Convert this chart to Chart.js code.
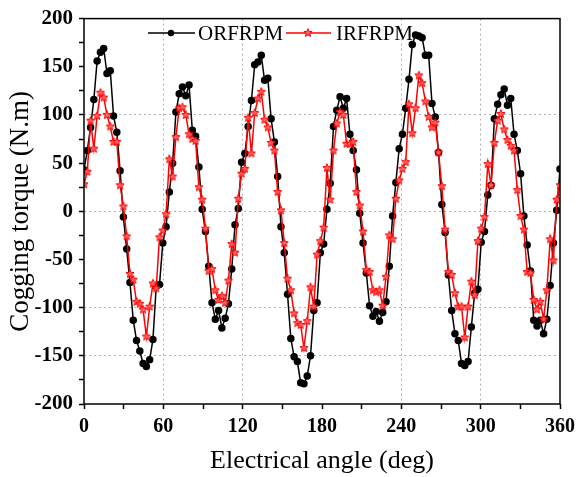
<!DOCTYPE html>
<html>
<head>
<meta charset="utf-8">
<script src="https://cdn.jsdelivr.net/npm/chart.js@4.4.1/dist/chart.umd.min.js"></script>
<style>
    html, body { margin: 0; padding: 0; background: #fff; }
    #wrap { width: 581px; height: 477px; }
</style>
</head>
<body>
<div id="wrap"><canvas id="torqueChart" width="581" height="477"></canvas></div>
<script>
// Cogging torque vs electrical angle
const seriesNames = ['ORFRPM', 'IRFRPM'];

const orfrpm = [
    43, 63, 87, 116, 156, 165, 169, 143, 146, 99,
    82, 42, -6, -39, -74, -113, -134, -145, -158, -161,
    -154, -133, -78, -76, -33, -16, 20, 50, 103, 122,
    129, 120, 131, 84, 78, 46, 2, -21, -57, -95,
    -112, -103, -121, -111, -96, -60, -14, 3, 51,
    60, 88, 115, 152, 155, 162, 136, 138, 96, 72,
    36, -16, -43, -86, -132, -151, -156, -178, -179, -171,
    -150, -103, -95, -43, -34, 2, 29, 88, 105, 119,
    107, 117, 80, 63, 43, -2, -33, -64, -98, -109,
    -104, -114, -105, -94, -57, -5, 30, 65,
    80, 107, 137, 173, 183, 182, 180, 162, 162, 112,
    98, 61, 7, -22, -66, -103, -127, -134, -158, -160,
    -156, -120, -85, -81, -32, -21, 17, 27, 96, 111,
    121, 127, 110, 117, 80, 63, 39, -5, -35, -62,
    -113, -119, -113, -127, -112, -77, -33, 1, 44
];

const irfrpm = [
    28, 41, 94, 65, 99, 123, 118, 100, 88, 72,
    72, 27, 5, -26, -65, -71, -94, -96, -102, -130,
    -99, -75, -80, -27, -20, -3, 54, 36, 77, 107,
    108, 100, 80, 75, 73, 25, 12, -18, -62, -60,
    -82, -92, -88, -95, -72, -34, -43, 13, 39,
    44, 97, 60, 102, 117, 124, 95, 87, 71, 63,
    20, 1, -33, -70, -82, -106, -116, -118, -142, -114,
    -79, -99, -45, -31, -17, 45, 12, 63, 91, 103,
    100, 70, 70, 72, 20, 6, -21, -61, -63, -82,
    -84, -82, -98, -68, -25, -29, 13, 32, 44,
    51, 111, 81, 107, 141, 133, 114, 98, 87, 92,
    61, 26, -19, -63, -66, -85, -99, -99, -131, -99,
    -73, -87, -31, -18, -6, 49, 27, 71, 94, 101,
    85, 74, 68, 63, 22, -5, -19, -63, -64, -92,
    -102, -94, -112, -82, -29, -51, 12, 27
];

const angleLabels = [0, 60, 120, 180, 240, 300, 360];
const torqueLabels = [200, 150, 100, 50, 0, -50, -100, -150, -200];
const angleGrid = [60, 120, 240, 300];
const torqueGrid = [100, 0, -100, -150];

// samples are evenly spaced over one 0-360 deg span
function toPoints(values) {
    return values.map((v, i) => ({ x: i * 360 / (values.length - 1), y: v }));
}

function makeStar(r, fill, stroke) {
    const c = document.createElement('canvas');
    const s = Math.ceil(r * 2 + 3);
    c.width = s;
    c.height = s;
    const g = c.getContext('2d');
    g.beginPath();
    for (let i = 0; i < 10; i++) {
        const rad = i % 2 === 0 ? r : r * 0.45;
        const a = -Math.PI / 2 + i * Math.PI / 5;
        g.lineTo(s / 2 + rad * Math.cos(a), s / 2 + rad * Math.sin(a));
    }
    g.closePath();
    g.fillStyle = fill;
    g.fill();
    g.lineWidth = 1;
    g.strokeStyle = stroke;
    g.stroke();
    return c;
}

const redStar = makeStar(4.3, '#ff6060', '#ff0000');

const frameAndLegend = {
    id: 'frameAndLegend',
    afterDraw(chart) {
        const { ctx, chartArea: a } = chart;
        ctx.save();
        ctx.strokeStyle = '#000';
        ctx.lineWidth = 1.5;
        ctx.strokeRect(a.left, a.top, a.right - a.left, a.bottom - a.top);

        const y = 33;
        ctx.font = '21px "Liberation Serif"';
        ctx.textBaseline = 'middle';
        ctx.fillStyle = '#000';

        // ORFRPM entry
        ctx.lineWidth = 1.5;
        ctx.strokeStyle = '#000';
        ctx.beginPath();
        ctx.moveTo(148, y);
        ctx.lineTo(195, y);
        ctx.stroke();
        ctx.beginPath();
        ctx.arc(171, y, 3.2, 0, Math.PI * 2);
        ctx.fill();
        ctx.fillText(seriesNames[0], 198, y + 1);

        // IRFRPM entry
        ctx.strokeStyle = '#ff0000';
        ctx.beginPath();
        ctx.moveTo(286, y);
        ctx.lineTo(331, y);
        ctx.stroke();
        ctx.drawImage(redStar, 308 - redStar.width / 2, y - redStar.height / 2);
        ctx.fillText(seriesNames[1], 336, y + 1);
        ctx.restore();
    }
};

const ctx = document.getElementById('torqueChart').getContext('2d');
const chart = new Chart(ctx, {
    type: 'line',
    data: {
        datasets: [
            {
                label: seriesNames[0],
                data: toPoints(orfrpm),
                borderColor: '#000',
                backgroundColor: '#000',
                borderWidth: 1.5,
                pointRadius: 3,
                pointStyle: 'circle',
                tension: 0,
                order: 2
            },
            {
                label: seriesNames[1],
                data: toPoints(irfrpm),
                borderColor: '#ff0000',
                backgroundColor: '#ff0000',
                borderWidth: 1.5,
                pointStyle: redStar,
                tension: 0,
                order: 1
            }
        ]
    },
    options: {
        responsive: false,
        animation: false,
        devicePixelRatio: 1,
        layout: { padding: { top: -1, right: -5, left: 0, bottom: 0 } },
        plugins: {
            legend: { display: false },
            tooltip: { enabled: false }
        },
        scales: {
            x: {
                type: 'linear',
                min: 0,
                max: 360,
                afterFit(scale) { scale.height = 73; },
                ticks: {
                    stepSize: 30,
                    autoSkip: false,
                    maxRotation: 0,
                    padding: 6,
                    color: '#000',
                    font: { family: 'Liberation Serif', size: 20, weight: 'bold' },
                    callback: v => angleLabels.includes(v) ? String(v) : ''
                },
                grid: {
                    color: c => angleGrid.includes(c.tick && c.tick.value) ? '#b0b0b0' : 'transparent',
                    lineWidth: 1,
                    tickColor: '#000',
                    tickWidth: 1.5,
                    tickLength: 5
                },
                border: { display: false, dash: [2, 3] },
                title: {
                    display: true,
                    text: 'Electrical angle (deg)',
                    color: '#000',
                    font: { family: 'Liberation Serif', size: 26 },
                    padding: { top: 0, bottom: 0 }
                }
            },
            y: {
                min: -200,
                max: 200,
                afterFit(scale) { scale.width = 84; },
                ticks: {
                    stepSize: 25,
                    autoSkip: false,
                    padding: 6,
                    color: '#000',
                    font: { family: 'Liberation Serif', size: 21, weight: 'bold' },
                    callback: v => torqueLabels.includes(v) ? String(v) : ''
                },
                grid: {
                    color: c => torqueGrid.includes(c.tick && c.tick.value) ? '#b0b0b0' : 'transparent',
                    lineWidth: 1,
                    tickColor: '#000',
                    tickWidth: 1.5,
                    tickLength: 5
                },
                border: { display: false, dash: [2, 3] },
                title: {
                    display: true,
                    text: 'Cogging torque (N.m)',
                    color: '#000',
                    font: { family: 'Liberation Serif', size: 27 },
                    padding: { top: 5, bottom: 0 }
                }
            }
        }
    },
    plugins: [frameAndLegend]
});
</script>
</body>
</html>
